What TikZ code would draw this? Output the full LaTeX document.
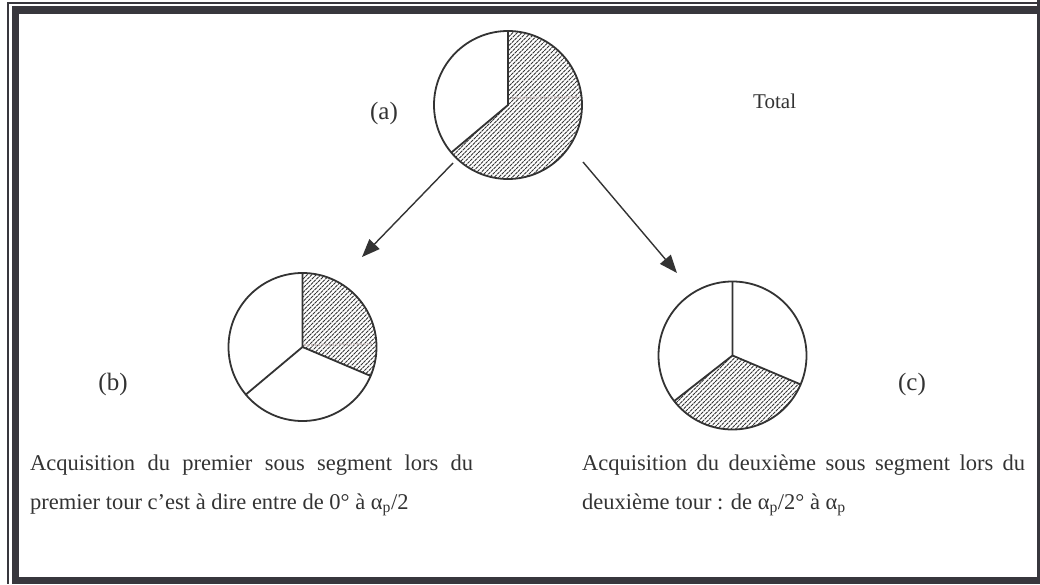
\documentclass[tikz,border=0pt]{standalone}
\usepackage{fontspec}
\setmainfont{Liberation Serif}
\usetikzlibrary{arrows.meta}
\definecolor{ink}{HTML}{333333}
\definecolor{framec}{HTML}{38373D}
\definecolor{stripe}{HTML}{C4B4B4}
\newcommand\hatchsector[3]{%
  \begin{scope}
    \clip (#1) -- ++(#2:74) arc[start angle=#2, end angle=#3, radius=74] -- cycle;
    \foreach \s in {-171,-166.5,...,171}
      \draw[hatchline, shift={(#1)}] (\s-80,-80) -- ++(160,160);
  \end{scope}}
\begin{document}
\begin{tikzpicture}[x=1pt,y=1pt,
  pie/.style={draw=ink, line width=1.8pt},
  hatchline/.style={ink, line width=1pt, dash pattern=on 3pt off 0.8pt},
  arr/.style={draw=ink, line width=1.4pt, -{Triangle[length=18pt,width=14pt]}},
  lbl/.style={font=\fontsize{25}{29}\selectfont, text=ink, inner sep=0},
  txt/.style={font=\fontsize{22.5}{26}\selectfont, text=ink, inner sep=0, anchor=base west},
  disc/.style={circle, minimum size=148pt, inner sep=0, pie},
  framebar/.style={fill=framec}]
\useasboundingbox (0,0) rectangle (1040,584);
\fill[white] (0,0) rectangle (1040,584);
% frame
\fill[framebar] (12,570) rectangle (1037,578);
\fill[framebar] (12,0) rectangle (19,578);
\fill[framebar] (12,0) rectangle (1037,7);
\fill[framebar] (1037,0) rectangle (1039.5,584);
\fill[framebar] (7,580) rectangle (1040,582);
\fill[framebar] (7,0) rectangle (9,582);

% pies
\coordinate (ca) at (508,479);
\coordinate (cb) at (302.5,237);
\coordinate (cc) at (732.5,228.5);
\hatchsector{ca}{-140}{90}
\hatchsector{cb}{-23}{90}
\hatchsector{cc}{218}{337}
\draw[stripe, line width=2pt, dash pattern=on 2pt off 1.5pt, opacity=0.8] (512,486) -- (578,487);
\draw[stripe, line width=2pt, dash pattern=on 2pt off 1.5pt, opacity=0.8] (304,239) -- (372,240);
\node[disc] (pa) at (ca) {};
\node[disc] (pb) at (cb) {};
\node[disc] (pc) at (cc) {};
\draw[pie] (ca) ++(90:74) -- (ca) -- ++(220:74);
\draw[pie] (cb) ++(90:74) -- (cb) -- ++(220:74);
\draw[pie] (cb) -- ++(-23:74);
\draw[pie] (cc) ++(90:74) -- (cc) -- ++(218:74);
\draw[pie] (cc) -- ++(-23:74);

% arrows
\coordinate (a1) at (453,421);
\coordinate (b1) at (362,327);
\coordinate (a2) at (583,422);
\coordinate (c1) at (677,311);
\draw[arr] (a1) -- (b1);
\draw[arr] (a2) -- (c1);

% labels
\node[lbl] (la) at (384,471) {(a)};
\node[lbl] (lb) at (113,200) {(b)};
\node[lbl] (lc) at (912,200) {(c)};
\node[lbl, font=\fontsize{21}{25}\selectfont, anchor=base west] (tot) at (753,475) {Total};

% texts
\node[txt] (t1) at (30,114) {\hbox to 443pt{Acquisition\hfill du\hfill premier\hfill sous\hfill segment\hfill lors\hfill du}};
\node[txt] (t2) at (30,75) {premier tour c’est à dire entre de 0° à α\textsubscript{p}/2};
\node[txt] (t3) at (582,114) {\hbox to 443pt{Acquisition\hfill du\hfill deuxième\hfill sous\hfill segment\hfill lors\hfill du}};
\node[txt] (t4) at (582,75) {deuxième tour : de α\textsubscript{p}/2° à α\textsubscript{p}};
\end{tikzpicture}
\end{document}
